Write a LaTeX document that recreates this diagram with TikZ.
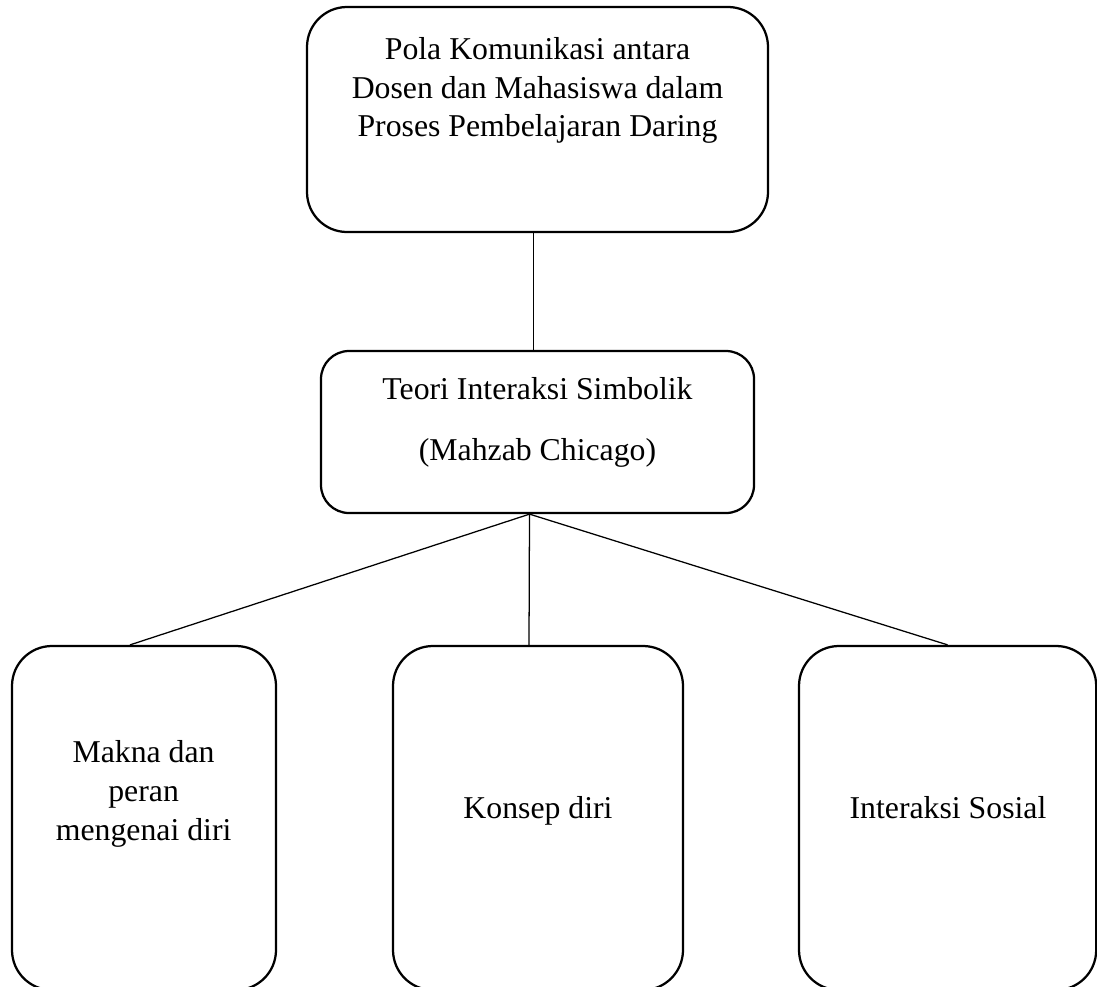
\documentclass[tikz,border=0pt]{standalone}
\usepackage{fontspec}
\setmainfont{Liberation Serif}
\usetikzlibrary{positioning}

\tikzset{
  kotak/.style={draw,rounded corners=#1,line width=1.6pt,inner sep=0pt},
  kotak/.default=1cm,
  teks/.style={align=center,inner sep=0pt,anchor=base,font=\fontsize{22.6}{27.6}\selectfont},
  garis/.style={line width=0.9pt}
}

\begin{document}
\begin{tikzpicture}
\useasboundingbox (0,0) rectangle (27.425,-24.65);
% ---------- kotak atas ----------
\node[kotak,minimum width=11.525cm,minimum height=5.625cm] (pola) at (13.4375,-2.9875) {};
\node[teks] (tpola) at (13.4375,-3.42) {Pola Komunikasi antara\\Dosen dan Mahasiswa dalam\\Proses Pembelajaran Daring};
% ---------- teori ----------
\node[kotak=0.7cm,minimum width=10.825cm,minimum height=4.05cm] (teori) at (13.4375,-10.8) {};
\node[teks,font=\fontsize{22.6}{42.7}\selectfont] (tteori) at (13.4375,-11.5) {Teori Interaksi Simbolik\\(Mahzab Chicago)};
% ---------- tiga kotak bawah ----------
\node[kotak,minimum width=6.6cm,minimum height=8.6cm] (makna) at (3.6,-20.45) {};
\node[kotak,minimum width=7.25cm,minimum height=8.6cm] (konsep) at (13.45,-20.45) {};
\node[kotak,minimum width=7.43cm,minimum height=8.6cm] (sosial) at (23.69,-20.45) {};
\node[teks] (tmakna) at (3.59,-21.0) {Makna dan\\peran\\mengenai diri};
\node[teks] (tkonsep) at (13.45,-20.45) {Konsep diri};
\node[teks] (tsosial) at (23.7,-20.47) {Interaksi Sosial};
% garis penghubung
\draw[garis] ([xshift=-0.1cm]pola.south) -- ([xshift=-0.1cm]teori.north);
\coordinate (cabang) at ([xshift=-0.2cm]teori.south);
\draw[garis] (cabang) -- ([xshift=-0.35cm]makna.north);
\draw[garis] (cabang) -- ([xshift=-0.225cm]konsep.north);
\draw[garis] (cabang) -- (sosial.north);
\end{tikzpicture}
\end{document}
